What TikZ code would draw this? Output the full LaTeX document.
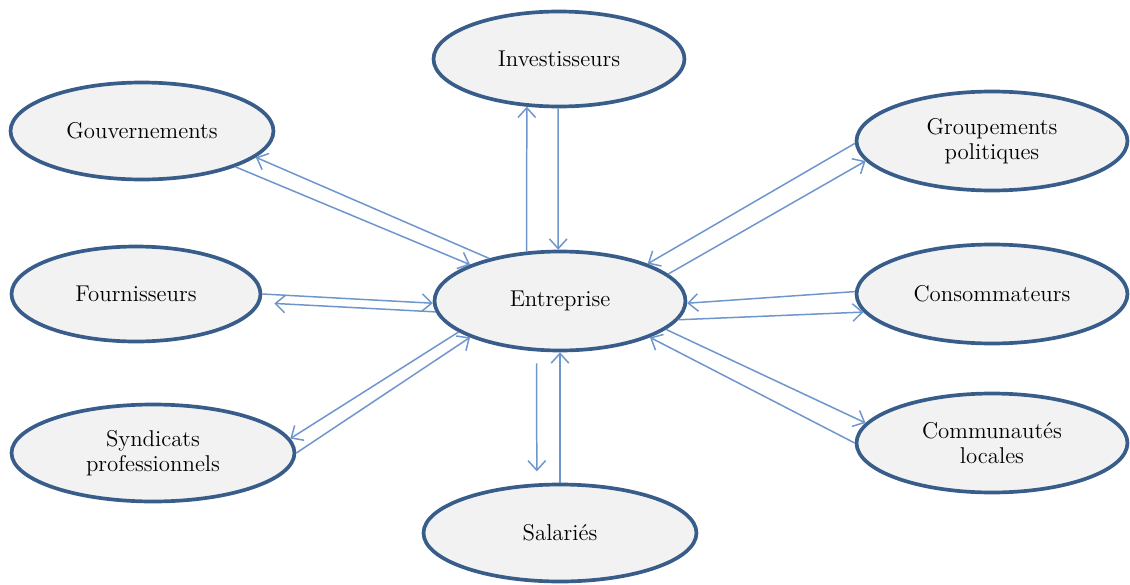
\documentclass[tikz,border=0pt]{standalone}
\usepackage{tikz}
\usetikzlibrary{arrows.meta,shapes.geometric}
\definecolor{rimblue}{HTML}{385D8A}
\definecolor{linkblue}{HTML}{6E96CD}
\definecolor{shade}{HTML}{F2F2F2}

\begin{document}
\begin{tikzpicture}[
    x=0.02cm, y=-0.02cm,
    party/.style={ellipse, draw=rimblue, fill=shade, line width=2.1pt, inner sep=0pt, align=center, font=\fontsize{13}{14.5}\selectfont},
    arrow/.style={-{Straight Barb[length=5.5pt,width=10pt]}, draw=linkblue, line width=0.85pt}
]
\useasboundingbox (0,0) rectangle (1130,585);

\node[party, minimum width=5.02cm, minimum height=1.98cm] (ent) at (560,301) {Entreprise};
\node[party, minimum width=5.02cm, minimum height=1.90cm] (inv) at (559,59) {Investisseurs};
\node[party, minimum width=5.26cm, minimum height=1.94cm] (gov) at (142,131) {Gouvernements};
\node[party, minimum width=5.42cm, minimum height=1.98cm] (grp) at (992,141) {Groupements\\politiques};
\node[party, minimum width=4.98cm, minimum height=1.90cm] (fou) at (136,294) {Fournisseurs};
\node[party, minimum width=5.42cm, minimum height=1.98cm] (con) at (992,294) {Consommateurs};
\node[party, minimum width=5.66cm, minimum height=1.94cm] (syn) at (153,453) {Syndicats\\professionnels};
\node[party, minimum width=5.42cm, minimum height=1.98cm] (com) at (992,443) {Communautés\\locales};
\node[party, minimum width=5.46cm, minimum height=1.94cm] (sal) at (560,533) {Salariés};

% Investisseurs
\draw[arrow] (ent.124) -- (inv.236);
\draw[arrow] (inv.269) -- (ent.92);
% Gouvernements
\draw[arrow] (ent.149) -- (gov.-13);
\draw[arrow] (gov.-21) -- (ent.158);
% Groupements politiques
\draw[arrow] (grp.181) -- (ent.23);
\draw[arrow] (ent.14) -- (grp.189);
% Fournisseurs
\draw[arrow] (fou.0) -- (ent.181);
\draw[arrow, shorten >=0.28cm] (ent.185) -- (fou.-4);
% Consommateurs
\draw[arrow] (con.179) -- (ent.-1);
\draw[arrow] (ent.-9) -- (con.188);
% Syndicats professionnels
\draw[arrow] (ent.197) -- (syn.6);
\draw[arrow] (syn.0) -- (ent.202);
% Communautés locales
\draw[arrow] (com.180) -- (ent.-22);
\draw[arrow] (ent.-15) -- (com.171);
% Salariés
\draw[arrow, shorten <=0.24cm, shorten >=0.24cm] (ent.245) -- (sal.115);
\draw[arrow] (sal.90) -- (ent.270);
\end{tikzpicture}
\end{document}
